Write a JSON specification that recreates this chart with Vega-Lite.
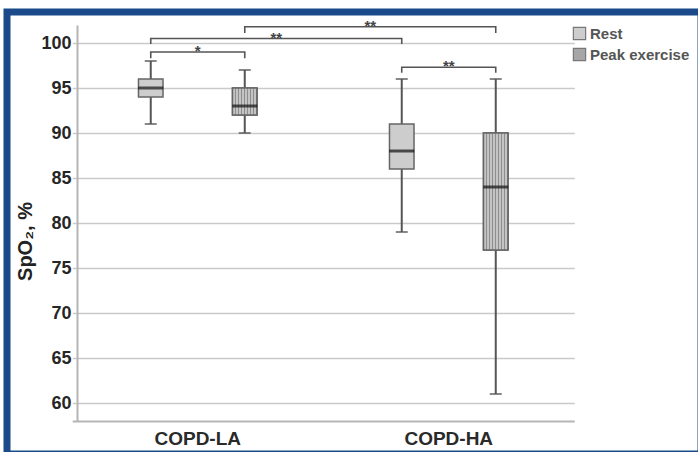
{
  "$schema": "https://vega.github.io/schema/vega-lite/v6.json",
  "width": 694,
  "height": 442,
  "autosize": "none",
  "padding": {"left": 7, "top": 12, "right": -3, "bottom": -2},
  "background": "white",
  "config": {
    "view": {"stroke": "#1a4a8a", "strokeWidth": 7, "fill": "white"},
    "font": "Liberation Sans"
  },
  "datasets": {
    "boxes": [
      {"group": "COPD-LA", "cond": "Rest", "lower": 91, "q1": 94, "median": 95, "q3": 96, "upper": 98},
      {"group": "COPD-LA", "cond": "Peak exercise", "lower": 90, "q1": 92, "median": 93, "q3": 95, "upper": 97},
      {"group": "COPD-HA", "cond": "Rest", "lower": 79, "q1": 86, "median": 88, "q3": 91, "upper": 96},
      {"group": "COPD-HA", "cond": "Peak exercise", "lower": 61, "q1": 77, "median": 84, "q3": 90, "upper": 96}
    ],
    "brackets": [
      {"bracket": "A", "seq": 1, "group": "COPD-LA", "cond": "Rest", "value": 98.3},
      {"bracket": "A", "seq": 2, "group": "COPD-LA", "cond": "Rest", "value": 99.0},
      {"bracket": "A", "seq": 3, "group": "COPD-LA", "cond": "Peak exercise", "value": 99.0},
      {"bracket": "A", "seq": 4, "group": "COPD-LA", "cond": "Peak exercise", "value": 98.3},
      {"bracket": "B", "seq": 1, "group": "COPD-LA", "cond": "Rest", "value": 99.9},
      {"bracket": "B", "seq": 2, "group": "COPD-LA", "cond": "Rest", "value": 100.5},
      {"bracket": "B", "seq": 3, "group": "COPD-HA", "cond": "Rest", "value": 100.5},
      {"bracket": "B", "seq": 4, "group": "COPD-HA", "cond": "Rest", "value": 99.9},
      {"bracket": "C", "seq": 1, "group": "COPD-LA", "cond": "Peak exercise", "value": 101.1},
      {"bracket": "C", "seq": 2, "group": "COPD-LA", "cond": "Peak exercise", "value": 101.8},
      {"bracket": "C", "seq": 3, "group": "COPD-HA", "cond": "Peak exercise", "value": 101.8},
      {"bracket": "C", "seq": 4, "group": "COPD-HA", "cond": "Peak exercise", "value": 101.1},
      {"bracket": "D", "seq": 1, "group": "COPD-HA", "cond": "Rest", "value": 96.7},
      {"bracket": "D", "seq": 2, "group": "COPD-HA", "cond": "Rest", "value": 97.3},
      {"bracket": "D", "seq": 3, "group": "COPD-HA", "cond": "Peak exercise", "value": 97.3},
      {"bracket": "D", "seq": 4, "group": "COPD-HA", "cond": "Peak exercise", "value": 96.7}
    ],
    "starsWithin": [
      {"group": "COPD-LA", "label": "*", "value": 99.0},
      {"group": "COPD-HA", "label": "**", "value": 97.3}
    ],
    "starsCross": [
      {"group": "COPD-LA", "cond": "Rest", "label": "**", "value": 100.5},
      {"group": "COPD-LA", "cond": "Peak exercise", "label": "**", "value": 101.8}
    ]
  },
  "layer": [
    {
      "data": {"name": "brackets"},
      "mark": {"type": "line", "color": "#555555", "strokeWidth": 1.6},
      "encoding": {
        "x": {
          "field": "group", "type": "nominal", "sort": ["COPD-LA", "COPD-HA"],
          "scale": {"range": [65.25, 567.25], "paddingInner": 0, "paddingOuter": 0},
          "axis": {
            "offset": -33, "title": null, "labelAngle": 0, "ticks": false,
            "domainColor": "#b5b5b5", "domainWidth": 2,
            "labelFont": "Liberation Sans", "labelFontWeight": "bold", "labelFontSize": 19,
            "labelColor": "#2a2a2a", "labelPadding": 8, "grid": false
          }
        },
        "xOffset": {
          "field": "cond", "type": "nominal", "sort": ["Rest", "Peak exercise"],
          "scale": {"paddingInner": 0.739, "paddingOuter": 0.7045}
        },
        "y": {
          "field": "value", "type": "quantitative",
          "scale": {"domain": [58, 102], "range": [409, 13], "nice": false, "zero": false},
          "axis": {
            "values": [60, 65, 70, 75, 80, 85, 90, 95, 100],
            "offset": -70, "grid": true, "gridColor": "#cacaca", "gridWidth": 1.6,
            "domainColor": "#b5b5b5", "domainWidth": 2,
            "ticks": false,
            "labelFont": "Liberation Sans", "labelFontWeight": "bold", "labelFontSize": 18,
            "labelColor": "#262626", "labelPadding": 6,
            "title": "SpO₂, %", "titleFont": "Liberation Sans", "titleFontSize": 20,
            "titleFontWeight": "bold", "titleColor": "#222222",
            "titleX": -52, "titleY": 229, "titleAngle": 270,
            "titleBaseline": "middle", "titleAlign": "center"
          }
        },
        "detail": {"field": "bracket"},
        "order": {"field": "seq", "type": "quantitative"}
      }
    },
    {
      "data": {"name": "boxes"},
      "mark": {"type": "rule", "color": "#555555", "strokeWidth": 2},
      "encoding": {
        "x": {"field": "group", "type": "nominal", "sort": ["COPD-LA", "COPD-HA"]},
        "xOffset": {"field": "cond", "type": "nominal", "sort": ["Rest", "Peak exercise"]},
        "y": {"field": "lower", "type": "quantitative"},
        "y2": {"field": "upper"}
      }
    },
    {
      "data": {"name": "boxes"},
      "mark": {"type": "bar", "stroke": "#666666", "strokeWidth": 1.5},
      "encoding": {
        "x": {"field": "group", "type": "nominal", "sort": ["COPD-LA", "COPD-HA"]},
        "xOffset": {"field": "cond", "type": "nominal", "sort": ["Rest", "Peak exercise"]},
        "y": {"field": "q1", "type": "quantitative"},
        "y2": {"field": "q3"},
        "fill": {
          "field": "cond", "type": "nominal", "sort": ["Rest", "Peak exercise"],
          "scale": {"domain": ["Rest", "Peak exercise"], "range": ["#cdcdcd", "#a6a6a6"]},
          "legend": {
            "orient": "none", "legendX": 565, "legendY": 14, "title": null,
            "symbolType": "square", "symbolSize": 150, "symbolStrokeColor": "#777777",
            "symbolStrokeWidth": 1.2, "symbolOpacity": 1,
            "labelFont": "Liberation Sans", "labelFontWeight": "bold", "labelFontSize": 15,
            "labelColor": "#555555", "labelOffset": 3, "rowPadding": 2
          }
        }
      }
    },
    {
      "data": {"name": "boxes"},
      "transform": [{"filter": "datum.cond === 'Peak exercise'"}],
      "mark": {
        "type": "bar", "stroke": "#666666", "strokeWidth": 1.5,
        "fill": {"gradient": "linear", "x1": 0, "x2": 1, "y1": 0, "y2": 0, "stops": [
          {"offset": 0, "color": "#c4c4c4"}, {"offset": 0.083, "color": "#c4c4c4"}, {"offset": 0.083, "color": "#8e8e8e"}, {"offset": 0.125, "color": "#8e8e8e"},
          {"offset": 0.125, "color": "#c4c4c4"}, {"offset": 0.208, "color": "#c4c4c4"}, {"offset": 0.208, "color": "#8e8e8e"}, {"offset": 0.25, "color": "#8e8e8e"},
          {"offset": 0.25, "color": "#c4c4c4"}, {"offset": 0.333, "color": "#c4c4c4"}, {"offset": 0.333, "color": "#8e8e8e"}, {"offset": 0.375, "color": "#8e8e8e"},
          {"offset": 0.375, "color": "#c4c4c4"}, {"offset": 0.458, "color": "#c4c4c4"}, {"offset": 0.458, "color": "#8e8e8e"}, {"offset": 0.5, "color": "#8e8e8e"},
          {"offset": 0.5, "color": "#c4c4c4"}, {"offset": 0.583, "color": "#c4c4c4"}, {"offset": 0.583, "color": "#8e8e8e"}, {"offset": 0.625, "color": "#8e8e8e"},
          {"offset": 0.625, "color": "#c4c4c4"}, {"offset": 0.708, "color": "#c4c4c4"}, {"offset": 0.708, "color": "#8e8e8e"}, {"offset": 0.75, "color": "#8e8e8e"},
          {"offset": 0.75, "color": "#c4c4c4"}, {"offset": 0.833, "color": "#c4c4c4"}, {"offset": 0.833, "color": "#8e8e8e"}, {"offset": 0.875, "color": "#8e8e8e"},
          {"offset": 0.875, "color": "#c4c4c4"}, {"offset": 0.958, "color": "#c4c4c4"}, {"offset": 0.958, "color": "#8e8e8e"}, {"offset": 1, "color": "#8e8e8e"}
        ]}
      },
      "encoding": {
        "x": {"field": "group", "type": "nominal", "sort": ["COPD-LA", "COPD-HA"]},
        "xOffset": {"field": "cond", "type": "nominal", "sort": ["Rest", "Peak exercise"]},
        "y": {"field": "q1", "type": "quantitative"},
        "y2": {"field": "q3"}
      }
    },
    {
      "data": {"name": "boxes"},
      "mark": {"type": "tick", "color": "#111111", "thickness": 3, "size": 25},
      "encoding": {
        "x": {"field": "group", "type": "nominal", "sort": ["COPD-LA", "COPD-HA"]},
        "xOffset": {"field": "cond", "type": "nominal", "sort": ["Rest", "Peak exercise"]},
        "y": {"field": "median", "type": "quantitative"}
      }
    },
    {
      "data": {"name": "boxes"},
      "mark": {"type": "tick", "color": "#555555", "thickness": 2, "size": 12},
      "encoding": {
        "x": {"field": "group", "type": "nominal", "sort": ["COPD-LA", "COPD-HA"]},
        "xOffset": {"field": "cond", "type": "nominal", "sort": ["Rest", "Peak exercise"]},
        "y": {"field": "lower", "type": "quantitative"}
      }
    },
    {
      "data": {"name": "boxes"},
      "mark": {"type": "tick", "color": "#555555", "thickness": 2, "size": 12},
      "encoding": {
        "x": {"field": "group", "type": "nominal", "sort": ["COPD-LA", "COPD-HA"]},
        "xOffset": {"field": "cond", "type": "nominal", "sort": ["Rest", "Peak exercise"]},
        "y": {"field": "upper", "type": "quantitative"}
      }
    },
    {
      "data": {"name": "starsWithin"},
      "mark": {"type": "text", "font": "Liberation Sans", "fontWeight": "bold", "fontSize": 15, "color": "#444444", "baseline": "alphabetic", "dy": 4},
      "encoding": {
        "x": {"field": "group", "type": "nominal", "sort": ["COPD-LA", "COPD-HA"]},
        "y": {"field": "value", "type": "quantitative"},
        "text": {"field": "label"}
      }
    },
    {
      "data": {"name": "starsCross"},
      "mark": {"type": "text", "font": "Liberation Sans", "fontWeight": "bold", "fontSize": 15, "color": "#444444", "baseline": "alphabetic", "dy": 4, "dx": 125.5},
      "encoding": {
        "x": {"field": "group", "type": "nominal", "sort": ["COPD-LA", "COPD-HA"]},
        "xOffset": {"field": "cond", "type": "nominal", "sort": ["Rest", "Peak exercise"]},
        "y": {"field": "value", "type": "quantitative"},
        "text": {"field": "label"}
      }
    }
  ]
}
